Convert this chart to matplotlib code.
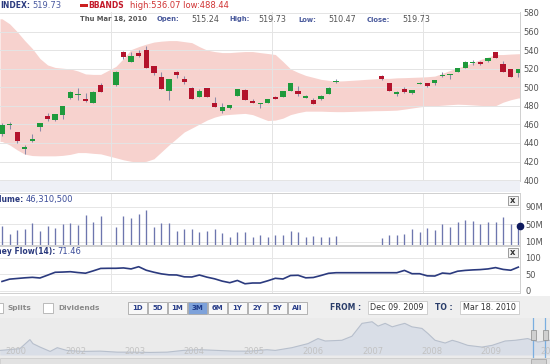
import numpy as np
import matplotlib.pyplot as plt
from matplotlib.patches import Rectangle

W, H = 550, 364

# ---- daily candles, one slot per trading day (None = no bar that day) ----
opens = [449.6, 459.0, 451.5, 433.6, 441.8, 457.4, 468.6, 464.6, 470.0, 488.2,
         491.3, 487.8, 483.5, 502.8, None, 502.0, 538.4, 527.4, 536.6, 539.8,
         522.7, 510.9, 496.0, 516.7, 509.2, 499.6, 490.0, 498.8, 482.5, 474.6,
         477.4, 490.6, 496.7, 485.0, 481.5, 483.5, 489.9, 489.9, 496.0, 496.0,
         488.9, 486.6, 486.8, 492.4, 505.2, None, None, None, None, None,
         512.6, 504.9, 493.2, 497.8, 494.2, 503.8, 504.5, 504.5, 511.8, 513.5,
         516.7, 520.6, 526.0, 527.4, 528.0, 537.6, 525.2, 519.9, 515.24]
highs = [461.0, 463.0, 452.0, 437.8, 449.6, 462.0, 471.8, 471.5, 479.8, 495.8,
         498.8, 493.4, 495.8, 504.9, None, 517.0, 539.0, 538.0, 540.5, 544.0,
         523.0, 516.7, 508.8, 518.0, 512.0, 500.0, 498.5, 499.0, 489.5, 482.5,
         480.9, 498.0, 498.0, 487.8, 483.5, 487.0, 491.0, 495.8, 504.5, 501.3,
         491.2, 488.4, 491.2, 499.8, 509.0, None, None, None, None, None,
         512.8, 505.0, 495.5, 500.2, 497.2, 506.0, 504.7, 507.6, 516.7, 514.5,
         521.2, 528.0, 529.1, 528.5, 531.8, 537.8, 528.5, 520.0, 519.73]
lows = [447.5, 455.0, 440.0, 428.2, 441.0, 453.2, 463.9, 464.0, 465.7, 487.5,
        486.0, 484.5, 483.0, 495.0, None, 501.5, 530.6, 527.0, 532.3, 521.0,
        512.7, 498.5, 486.0, 509.5, 503.0, 487.8, 490.0, 489.5, 478.2, 472.0,
        477.0, 490.5, 486.7, 482.5, 478.0, 483.3, 487.0, 489.7, 496.0, 490.6,
        488.5, 482.3, 486.6, 492.2, 505.0, None, None, None, None, None,
        507.7, 496.0, 490.6, 494.2, 492.4, 503.5, 500.2, 502.8, 511.5, 509.2,
        516.5, 520.4, 523.4, 524.4, 527.0, 531.6, 516.3, 510.9, 510.47]
closes = [459.3, 459.5, 441.9, 436.0, 444.3, 461.4, 465.7, 471.0, 479.3, 495.3,
          492.4, 485.0, 495.3, 495.3, None, 516.7, 532.7, 534.1, 533.4, 521.0,
          515.6, 498.5, 508.4, 512.7, 505.6, 487.8, 496.0, 489.5, 478.2, 478.2,
          480.6, 497.8, 486.7, 482.5, 481.9, 487.0, 487.0, 495.6, 504.2, 493.2,
          491.0, 482.3, 491.0, 499.6, 507.0, None, None, None, None, None,
          509.1, 496.0, 495.3, 495.3, 497.0, 504.2, 501.3, 507.4, 512.2, 514.0,
          521.0, 527.0, 526.6, 524.5, 531.6, 531.6, 516.3, 510.9, 519.73]

bb_upper = [573.7, 568.3, 559.8, 550.2, 541.6, 530.9, 524.0, 521.3, 520.5, 519.7,
            517.5, 514.3, 513.8, 513.8, 518.1, 522.4, 530.9, 540.5, 543.7, 546.4,
            548.6, 549.6, 550.2, 550.2, 549.1, 548.0, 543.7, 540.0, 538.4, 537.3,
            537.3, 537.9, 538.4, 538.4, 537.3, 536.3, 535.2, 527.7, 519.7, 515.9,
            512.7, 510.6, 508.5, 507.4, 506.6, 506.9, 507.4, 507.9, 508.5, 509.0,
            509.5, 509.5, 510.1, 510.3, 510.6, 510.9, 511.3, 512.0, 514.9, 518.1,
            520.7, 523.4, 526.6, 529.8, 532.5, 535.2, 535.2, 535.7, 536.07]
bb_lower = [441.6, 437.9, 432.5, 427.9, 426.4, 426.1, 426.1, 426.1, 426.6, 427.7,
            429.6, 429.6, 428.8, 428.2, 426.1, 424.0, 421.8, 420.2, 419.4, 420.2,
            422.9, 430.4, 437.9, 444.8, 451.8, 456.0, 460.3, 464.6, 467.8, 470.0,
            470.7, 471.3, 471.8, 470.5, 467.3, 464.1, 464.6, 466.7, 470.5, 472.6,
            474.2, 474.2, 474.2, 473.9, 473.7, 473.7, 473.9, 474.2, 474.4, 474.7,
            474.8, 475.0, 475.3, 476.4, 477.6, 478.8, 479.6, 480.1, 480.6, 481.2,
            481.7, 481.4, 480.9, 480.4, 480.1, 480.1, 483.9, 486.5, 488.44]

volume_m = [45.9, 26.9, 36.7, 39.0, 52.0, 34.5, 46.6, 40.6, 50.5, 52.0,
            48.2, 71.0, 55.0, 68.7, None, 42.9, 68.7, 64.9, 73.3, 82.5,
            42.9, 52.0, 52.7, 34.5, 38.3, 39.0, 32.9, 34.5, 39.7, 29.2,
            20.0, 32.2, 32.2, 21.4, 24.6, 21.4, 25.3, 25.3, 35.1, 32.2,
            21.4, 23.7, 20.0, 21.4, 22.3, None, None, None, None, None,
            19.1, 25.3, 26.0, 27.6, 38.3, 32.9, 41.3, 36.0, 49.8, 44.3,
            54.3, 60.3, 57.3, 51.1, 54.3, 55.0, 65.8, 49.8, 46.3105]
last_volume = 46310500

money_flow = [28, 35, 37, 39, 40.5, 38.5, 47, 55.8, 56.5, 57.6,
              55, 53, 60, 67.5, 67.9, 67.9, 69, 66, 72.7, 62,
              56, 51, 48, 47.6, 42, 41.5, 47.5, 41, 36, 29,
              24.2, 31, 21, 23.3, 23.3, 30, 37.6, 35.5, 46, 46.7,
              39, 40, 46, 52.7, 54.5, 54.5, 54.5, 54.5, 54.5, 54.5,
              54.5, 54.5, 54.5, 61.5, 51.5, 51.5, 45, 44.5, 53.5, 51.5,
              59, 61.5, 63, 64, 66, 70, 64.5, 62, 71.46]

month_pos = [14.36, 35.56, 55.41]
month_labels = ['2009', 'Feb', 'Mar']

# long-range navigator (year, level)
nav_years = [2000.91, 2001.24, 2001.41, 2001.46, 2001.58, 2001.75, 2001.87, 2002.03,
             2002.30, 2002.59, 2002.88, 2003.14, 2003.43, 2003.72, 2003.99, 2004.27,
             2004.56, 2004.83, 2005.11, 2005.40, 2005.54, 2005.82, 2006.09, 2006.26,
             2006.38, 2006.66, 2006.83, 2007.00, 2007.17, 2007.27, 2007.39, 2007.51,
             2007.61, 2007.72, 2007.84, 2008.01, 2008.11, 2008.23, 2008.40, 2008.52,
             2008.62, 2008.78, 2009.02, 2009.19, 2009.41, 2009.58, 2009.79, 2009.96,
             2010.17]
nav_level = [5, 6.7, 15.7, 11.7, 8.3, 4, 7.7, 5,
             4, 4.3, 3.3, 3.3, 3, 3.3, 5, 5.7,
             5, 4.3, 4.3, 5.7, 5, 7.7, 11.7, 16.7,
             14.3, 15, 19, 31.7, 33.3, 29, 31.7, 28.3,
             30, 31.7, 28.3, 26.7, 21.7, 15, 12.3, 15,
             13.3, 10, 8.3, 10, 14.3, 15, 16.7, 13.3,
             15]
nav_ticks = [2001, 2002, 2003, 2004, 2005, 2006, 2007, 2008, 2009, 2010]
nav_labels = ['2000', '2002', '2003', '2004', '2005', '2006', '2007', '2008', '2009', '2010']

buttons = ['1D', '5D', '1M', '3M', '6M', '1Y', '2Y', '5Y', 'All']
active_button = '3M'
date_from, date_to = 'Dec 09. 2009', 'Mar 18. 2010'

GREEN, RED, WICK = '#1f9a3c', '#b3132c', '#8d8aa8'
NAVY = '#2b3a7e'

fig = plt.figure(figsize=(W / 100, H / 100), dpi=100)
fig.patch.set_facecolor('white')


def add_ax(x0, y0, x1, y1):
    return fig.add_axes([x0 / W, 1 - y1 / H, (x1 - x0) / W, (y1 - y0) / H])


def ftext(x, y, s, **kw):
    kw.setdefault('va', 'center')
    kw.setdefault('fontsize', 5.8)
    return fig.text(x / W, 1 - y / H, s, **kw)


def frect(x0, y0, x1, y1, **kw):
    fig.add_artist(Rectangle((x0 / W, 1 - y1 / H), (x1 - x0) / W, (y1 - y0) / H,
                             transform=fig.transFigure, **kw))


x = np.arange(len(closes))
o = np.array(opens, dtype=float)
h = np.array(highs, dtype=float)
l = np.array(lows, dtype=float)
c = np.array(closes, dtype=float)
ok = ~np.isnan(c)
xl = (-0.263, 68.22)

# ---- price panel ----
ax = add_ax(0, 12, 520, 181)
bx = np.r_[xl[0], x, xl[1]]
ax.fill_between(bx, np.r_[bb_lower[0], bb_lower, bb_lower[-1]],
                np.r_[bb_upper[0], bb_upper, bb_upper[-1]],
                color='#f7d2ce', lw=0, zorder=1)
ax.vlines(x[ok], l[ok], h[ok], color=WICK, lw=0.75, zorder=3)
body_lo = np.minimum(o, c)
body_h = np.maximum(np.abs(c - o), 1.0)
cols = np.where(c >= o, GREEN, RED)
ax.bar(x[ok], body_h[ok], 0.7, bottom=body_lo[ok], color=cols[ok], lw=0, zorder=4)
ax.set_xlim(xl)
ax.set_ylim(399, 581)
ax.set_yticks(range(400, 581, 20))
ax.set_xticks(month_pos)
ax.yaxis.tick_right()
ax.tick_params(axis='y', length=0, pad=2.5, labelsize=6, labelcolor='#555555')
ax.tick_params(axis='x', length=0, labelbottom=False)
ax.grid(True, color='#e4e4e4', lw=0.7)
ax.set_axisbelow(False)
for s in ['left', 'top', 'bottom']:
    ax.spines[s].set_visible(False)
ax.spines['right'].set_color('#cfcfcf')
ax.spines['right'].set_linewidth(0.7)

frect(0, 181, 520, 192, fc='#eef0f6', ec='none')
for pos, lab in zip(month_pos, month_labels):
    ax.annotate(lab, xy=(pos, 0), xycoords=('data', 'axes fraction'),
                xytext=(2, -5.5), textcoords='offset pixels', ha='left', va='center',
                fontsize=6, color='#444444', annotation_clip=False)

# ---- volume panel ----
vol = np.array(volume_m, dtype=float)
vok = ~np.isnan(vol)
axv = add_ax(0, 193, 520, 244.5)
axv.vlines(x[vok], 0, vol[vok], color='#6d76ae', lw=0.95)
axv.plot([xl[1]], [vol[-1]], 'o', color='#0f1a5e', ms=4.5, clip_on=False, zorder=5)
axv.set_xlim(xl)
axv.set_ylim(4, 120.6)
axv.set_yticks([10, 50, 90], ['10M', '50M', '90M'])
axv.set_xticks(month_pos)

# ---- money flow panel ----
axm = add_ax(0, 246, 520, 292.5)
axm.plot(x, money_flow, color=NAVY, lw=1.2)
axm.set_xlim(xl)
axm.set_ylim(-5.5, 135.5)
axm.set_yticks([0, 50, 100])
axm.set_xticks(month_pos)

for a in (axv, axm):
    a.yaxis.tick_right()
    a.tick_params(axis='y', length=0, pad=4, labelsize=6, labelcolor='#555555')
    a.tick_params(axis='x', length=0, labelbottom=False)
    a.grid(True, color='#e6e6e6', lw=0.7)
    a.set_axisbelow(True)
    a.spines['left'].set_visible(False)
    for s in ['top', 'right', 'bottom']:
        a.spines[s].set_color('#d0d0d0')
        a.spines[s].set_linewidth(0.7)

# panel captions and close boxes
ftext(24, 199.5, 'Volume:', ha='right', weight='bold', color=NAVY, fontsize=5.5)
ftext(26, 199.5, f'{last_volume:,}', color='#3b4c99', fontsize=6)
ftext(55, 252, 'Money Flow(14):', ha='right', weight='bold', color=NAVY, fontsize=5.5)
ftext(57, 252, f'{money_flow[-1]:.2f}', color='#3b4c99', fontsize=6)
for y0 in (196, 248.3):
    frect(508.3, y0, 517.7, y0 + 8.6, fc='#f3f3f3', ec='#8c8c8c', lw=0.6)
    ftext(513, y0 + 4.1, 'x', ha='center', weight='bold', color='#333333', fontsize=6)

# ---- header lines ----
ftext(0, 5.5, 'INDEX:', weight='bold', color=NAVY, fontsize=5.5)
ftext(32, 5.5, f'{closes[-1]:.2f}', color='#4a5aa0', fontsize=6)
frect(80, 3.8, 87.5, 7.3, fc='#cc2020', ec='none')
ftext(88.5, 5.5, 'BBANDS', weight='bold', color='#c41a2a', fontsize=5.5)
ftext(130, 5.5, f'high:{bb_upper[-1]:.2f} low:{bb_lower[-1]:.2f}', color='#d03333', fontsize=6)

ftext(80, 19.5, 'Thu Mar 18, 2010', weight='bold', color='#555555', fontsize=4.9)
row = [('Open:', 157, opens[-1], 191), ('High:', 229, highs[-1], 258),
       ('Low:', 298, lows[-1], 328), ('Close:', 367, closes[-1], 402)]
for lab, lx, val, vx in row:
    ftext(lx, 19.5, lab, weight='bold', color='#4a5a9c', fontsize=4.9)
    ftext(vx, 19.5, f'{val:.2f}', color='#555555', fontsize=5.8)

# ---- controls strip ----
frect(0, 295.5, 550, 318, fc='#efefef', ec='none')
frect(-6, 302.7, 3, 313.3, fc='white', ec='#b0b0b0', lw=0.6)
ftext(8, 308, 'Splits', weight='bold', color='#8a8a8a', fontsize=5.3)
frect(42.7, 302.7, 52.7, 313.3, fc='white', ec='#b0b0b0', lw=0.6)
ftext(58, 308, 'Dividends', weight='bold', color='#8a8a8a', fontsize=5.3)
for i, lab in enumerate(buttons):
    bx0 = 128 + i * 20
    active = lab == active_button
    frect(bx0, 302, bx0 + 19, 313.5, fc='#7ea2da' if active else '#f8f8f8',
          ec='#a8a8a8', lw=0.6)
    ftext(bx0 + 9.5, 308, lab, ha='center', weight='bold',
          color='#1d3a8a' if active else '#2a3f8a', fontsize=5)
ftext(330, 308, 'FROM :', weight='bold', color='#2a3d6a', fontsize=5.5)
frect(367.7, 300.7, 426.7, 314.3, fc='white', ec='#c8c8c8', lw=0.6)
ftext(397.2, 308, date_from, ha='center', color='#333333', fontsize=5.8)
ftext(435, 308, 'TO :', weight='bold', color='#2a3d6a', fontsize=5.5)
frect(460, 300.7, 519.3, 314.3, fc='white', ec='#c8c8c8', lw=0.6)
ftext(489.7, 308, date_to, ha='center', color='#333333', fontsize=5.8)

# ---- navigator ----
axn = add_ax(0, 318, 550, 357.5)
axn.set_facecolor('#ebebeb')
axn.fill_between(nav_years, 0, nav_level, color='#d9dee7', lw=0)
axn.plot(nav_years, nav_level, color='#b7bfcc', lw=0.8)
axn.set_xlim(2000.906, 2010.165)
axn.set_ylim(-2, 37)
for t, s in zip(nav_ticks, nav_labels):
    axn.text(t, 3.5, s, color='#c2c2c2', fontsize=6, ha='left', va='center', clip_on=False)
axn.axvline(2009.879, color='#7aaee0', lw=0.9)
axn.axvline(2010.081, color='#7aaee0', lw=0.9)
axn.set_xticks([])
axn.set_yticks([])
for s in axn.spines.values():
    s.set_visible(False)
for hx in (531, 543):
    frect(hx, 330, hx + 4.5, 340, fc='#d0d0d0', ec='#8a8a8a', lw=0.5)

# scrollbar
frect(0, 357.5, 550, 364, fc='#e2e2e2', ec='#c4c4c4', lw=0.5)
frect(531, 358.5, 546, 364, fc='#d2d2d2', ec='#a0a0a0', lw=0.5)

fig.savefig('out.png', dpi=100)
